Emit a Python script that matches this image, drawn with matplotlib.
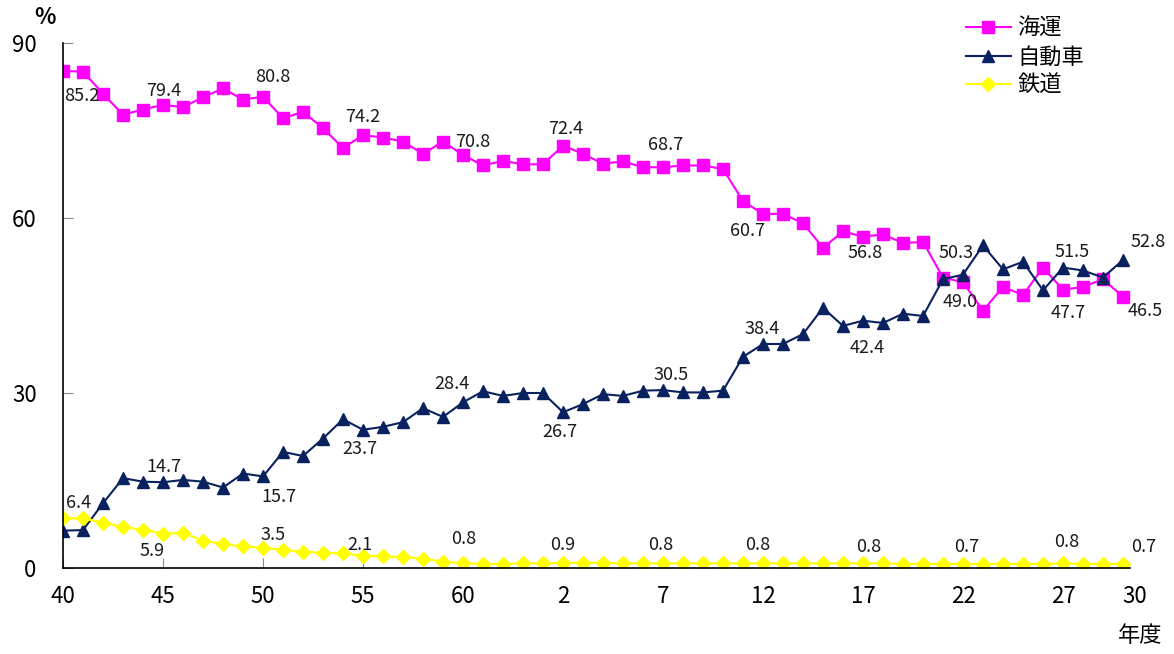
import matplotlib
matplotlib.use("Agg")
import matplotlib.pyplot as plt
from matplotlib.transforms import ScaledTranslation

plt.rcParams['font.family'] = ['Noto Sans CJK JP', 'DejaVu Sans']

# fiscal years: Showa 40-63, Heisei 1-30
tick_pos = [0, 5, 10, 15, 20, 25, 30, 35, 40, 45, 50, 53]
tick_labels = ['40', '45', '50', '55', '60', '2', '7', '12', '17', '22', '27', '30']

kaiun = [85.2, 85.1, 81.3, 77.7, 78.6, 79.4, 79.0, 80.7, 82.2, 80.3,
         80.8, 77.1, 78.2, 75.4, 72.0, 74.2, 73.8, 73.1, 71.0, 73.1,
         70.8, 69.0, 69.8, 69.2, 69.2, 72.4, 71.0, 69.3, 69.7, 68.7,
         68.7, 69.0, 69.0, 68.4, 62.9, 60.7, 60.7, 59.1, 54.9, 57.7,
         56.8, 57.2, 55.7, 55.9, 49.8, 49.0, 44.1, 48.2, 46.8, 51.5,
         47.7, 48.2, 49.5, 46.5]
jidosha = [6.4, 6.5, 11.1, 15.4, 14.8, 14.7, 15.1, 14.8, 13.8, 16.2,
           15.7, 19.9, 19.2, 22.2, 25.5, 23.7, 24.2, 25.0, 27.4, 25.9,
           28.4, 30.3, 29.5, 30.0, 30.0, 26.7, 28.1, 29.8, 29.5, 30.4,
           30.5, 30.1, 30.1, 30.4, 36.2, 38.4, 38.4, 40.1, 44.6, 41.5,
           42.4, 42.0, 43.6, 43.2, 49.5, 50.3, 55.3, 51.2, 52.5, 47.6,
           51.5, 51.0, 49.8, 52.8]
tetsudo = [8.5, 8.5, 7.8, 7.0, 6.6, 5.9, 6.0, 4.7, 4.1, 3.7,
           3.5, 3.1, 2.8, 2.6, 2.5, 2.1, 2.0, 1.9, 1.6, 1.1,
           0.8, 0.7, 0.7, 0.8, 0.8, 0.9, 0.9, 0.9, 0.8, 0.8,
           0.8, 0.8, 0.8, 0.8, 0.8, 0.8, 0.8, 0.8, 0.8, 0.8,
           0.8, 0.8, 0.7, 0.7, 0.7, 0.7, 0.7, 0.7, 0.7, 0.7,
           0.8, 0.7, 0.7, 0.7]
x = list(range(len(kaiun)))

# label offsets in pixels (dx, dy) for the labelled years
kaiun_off = {0: (19, -25), 5: (1, 14), 10: (10, 20), 15: (0, 18), 20: (10, 13),
             25: (3, 17), 30: (3, 22), 35: (-15, -17), 40: (2, -16), 45: (-3, -20),
             50: (5, -23), 53: (22, -14)}
jidosha_off = {0: (16, 28), 5: (1, 15), 10: (16, -21), 15: (-3, -19), 20: (-11, 18),
               25: (-3, -20), 30: (8, 15), 35: (-1, 15), 40: (4, -27), 45: (-7, 22),
               50: (9, 16), 53: (25, 18)}
tetsudo_off = {5: (-11, -17), 10: (10, 13), 15: (-3, 11), 20: (1, 24), 25: (0, 18),
               30: (-2, 18), 35: (-5, 18), 40: (6, 16), 45: (4, 17), 50: (4, 21),
               53: (21, 17)}

fig = plt.figure(figsize=(11.74, 6.54), dpi=100)
ax = fig.add_axes([63/1174, 1-568/654, (1130-63)/1174, 525/654])

ax.plot(x, kaiun, color='#FF00FF', lw=1.5, marker='s', ms=8.5, label='海運')
ax.plot(x, jidosha, color='#0A2160', lw=1.5, marker='^', ms=9, label='自動車')
ax.plot(x, tetsudo, color='#FFFF00', lw=1.5, marker='D', ms=7, label='鉄道')

for vals, offs in [(kaiun, kaiun_off), (jidosha, jidosha_off), (tetsudo, tetsudo_off)]:
    for i, (dx, dy) in offs.items():
        ax.annotate(f'{vals[i]:.1f}', (x[i], vals[i]), xytext=(dx, dy),
                    textcoords='offset pixels', ha='center', va='center',
                    fontsize=13, color='#1a1a1a')

ax.set_xlim(0, 53.35)
ax.set_ylim(0, 90)
ax.set_yticks([0, 30, 60, 90])
ax.set_xticks(tick_pos)
ax.set_xticklabels(tick_labels)
ax.tick_params(axis='both', direction='in', length=7, color='#888888', labelsize=16)
ax.tick_params(axis='y', pad=19)
ax.tick_params(axis='x', pad=12)
for lab in ax.get_xticklabels():
    if lab.get_text() == '30':
        lab.set_transform(lab.get_transform() + ScaledTranslation(0.12, 0, fig.dpi_scale_trans))
for s in ['top', 'right']:
    ax.spines[s].set_visible(False)
ax.spines['left'].set_linewidth(1.2)
ax.spines['bottom'].set_linewidth(1.2)

fig.text(45/1174, 1-18/654, '%', fontsize=16, fontweight='bold', ha='center', va='center')
fig.text(1140/1174, 1-636/654, '年度', fontsize=16, ha='center', va='center')

ax.legend(loc='upper left', bbox_to_anchor=(955/1174, 1-6/654),
          bbox_transform=fig.transFigure, frameon=False, fontsize=16,
          handlelength=2.0, handletextpad=0.3, labelspacing=0.25, borderpad=0)

fig.savefig('out.png', dpi=100)
